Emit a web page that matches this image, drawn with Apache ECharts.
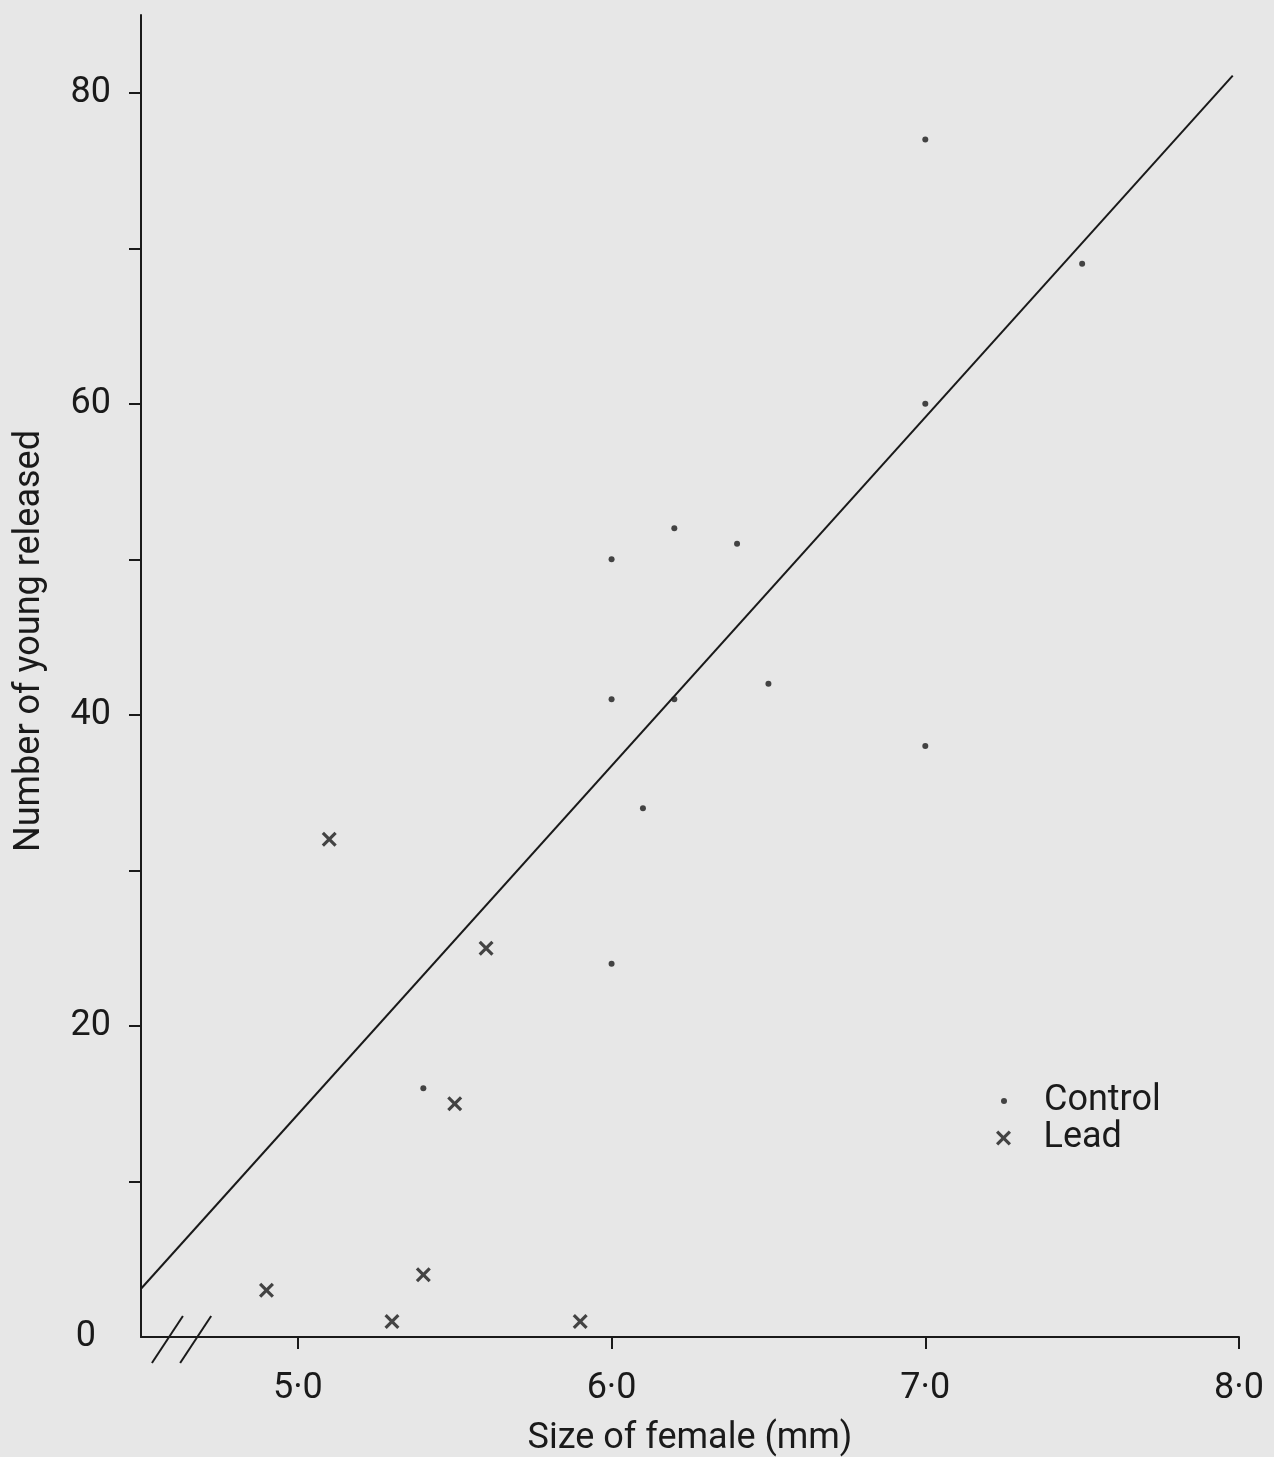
<!DOCTYPE html>
<html>
<head>
<meta charset="utf-8">
<script src="https://cdn.jsdelivr.net/npm/echarts@6/dist/echarts.min.js"></script>
<style>
html,body{margin:0;padding:0;background:#e7e7e7;}
#c{width:1274px;height:1457px;}
</style>
</head>
<body>
<div id="c"></div>
<script>
// ---- data ----
const controlSize  = [7.0, 7.5, 7.0, 6.0, 6.2, 6.4, 6.0, 6.2, 6.5, 7.0, 6.1, 6.0, 5.4];
const controlYoung = [77, 69, 60, 50, 52, 51, 41, 41, 42, 38, 34, 24, 16];
const leadSize  = [4.9, 5.1, 5.3, 5.4, 5.5, 5.6, 5.9];
const leadYoung = [3, 32, 1, 4, 15, 25, 1];
const fitSize  = [4.5, 7.98];
const fitYoung = [3.1, 81.1];
const xTickValues = [5, 6, 7, 8];
const yTickValues = [10, 20, 30, 40, 50, 60, 70, 80];
const yLabelValues = [0, 20, 40, 60, 80];
const breakSizes = [4.589, 4.679];
const seriesNames = ['Control', 'Lead'];

const INK = '#1a1a1a';
const FONT = 'Roboto';
const CROSS = 'path://M0,1.5L1.5,0L5,3.5L8.5,0L10,1.5L6.5,5L10,8.5L8.5,10L5,6.5L1.5,10L0,8.5L3.5,5Z';

const chart = echarts.init(document.getElementById('c'), null, {renderer: 'canvas'});

const option = {
  animation: false,
  backgroundColor: '#e7e7e7',
  grid: {left: 141, right: 35, top: 15, bottom: 120, containLabel: false, outerBoundsMode: 'none'},
  xAxis: {
    type: 'value', min: 4.5, max: 8,
    axisLine: {show: true, onZero: false, lineStyle: {color: INK, width: 2}},
    axisTick: {show: true, customValues: xTickValues, length: 12, lineStyle: {color: INK, width: 2}},
    axisLabel: {customValues: xTickValues, margin: 34, fontSize: 36, fontFamily: FONT, color: INK,
      formatter: v => v.toFixed(1).replace('.', '\u00B7')},
    splitLine: {show: false},
    name: 'Size of female (mm)', nameLocation: 'middle', nameGap: 84,
    nameTextStyle: {fontSize: 36, fontFamily: FONT, color: INK}
  },
  yAxis: {
    type: 'value', min: 0, max: 85,
    axisLine: {show: true, onZero: false, lineStyle: {color: INK, width: 2}},
    axisTick: {show: true, customValues: yTickValues, length: 12, lineStyle: {color: INK, width: 2}},
    axisLabel: {customValues: yLabelValues, margin: 30, fontSize: 36, fontFamily: FONT, color: INK,
      formatter: v => v === 0 ? '{z|0}' : String(v),
      rich: {z: {fontSize: 36, fontFamily: FONT, color: INK, padding: [0, 15, 0, 0]}}},
    splitLine: {show: false}
  },
  legend: [
    {data: [seriesNames[0]], orient: 'vertical', left: 1001, top: 1083, padding: 0,
     itemWidth: 70, itemHeight: 6, symbolKeepAspect: true, selectedMode: false,
     textStyle: {fontSize: 36, fontFamily: FONT, color: INK}},
    {data: [seriesNames[1]], orient: 'vertical', left: 996, top: 1120, padding: 0,
     itemWidth: 70, itemHeight: 15, symbolKeepAspect: true, selectedMode: false,
     textStyle: {fontSize: 36, fontFamily: FONT, color: INK}}
  ],
  series: [
    {
      name: 'Fit', type: 'line', silent: true, symbol: 'none',
      lineStyle: {color: INK, width: 2},
      data: fitSize.map((x, i) => [x, fitYoung[i]]), z: 1
    },
    {
      name: seriesNames[0], type: 'scatter', symbol: 'circle', symbolSize: 6,
      itemStyle: {color: INK},
      data: controlSize.map((x, i) => [x, controlYoung[i]]), z: 3
    },
    {
      name: seriesNames[1], type: 'scatter', symbol: CROSS, symbolSize: 15, symbolKeepAspect: true,
      itemStyle: {color: INK},
      data: leadSize.map((x, i) => [x, leadYoung[i]]), z: 3
    }
  ]
};
chart.setOption(option);

// axis break marks and rotated y-axis title
const graphics = [];
breakSizes.forEach(b => {
  const p = chart.convertToPixel({xAxisIndex: 0, yAxisIndex: 0}, [b, 0]);
  graphics.push({type: 'line', shape: {x1: p[0] - 17, y1: p[1] + 26, x2: p[0] + 14, y2: p[1] - 21},
    style: {stroke: INK, lineWidth: 2}, z: 10});
});
graphics.push({type: 'text', x: 30, y: 641, rotation: Math.PI / 2,
  style: {text: 'Number of young released', font: '36px ' + FONT, fill: INK, align: 'center', verticalAlign: 'middle'}, z: 10});
chart.setOption({graphic: graphics});
</script>
</body>
</html>
